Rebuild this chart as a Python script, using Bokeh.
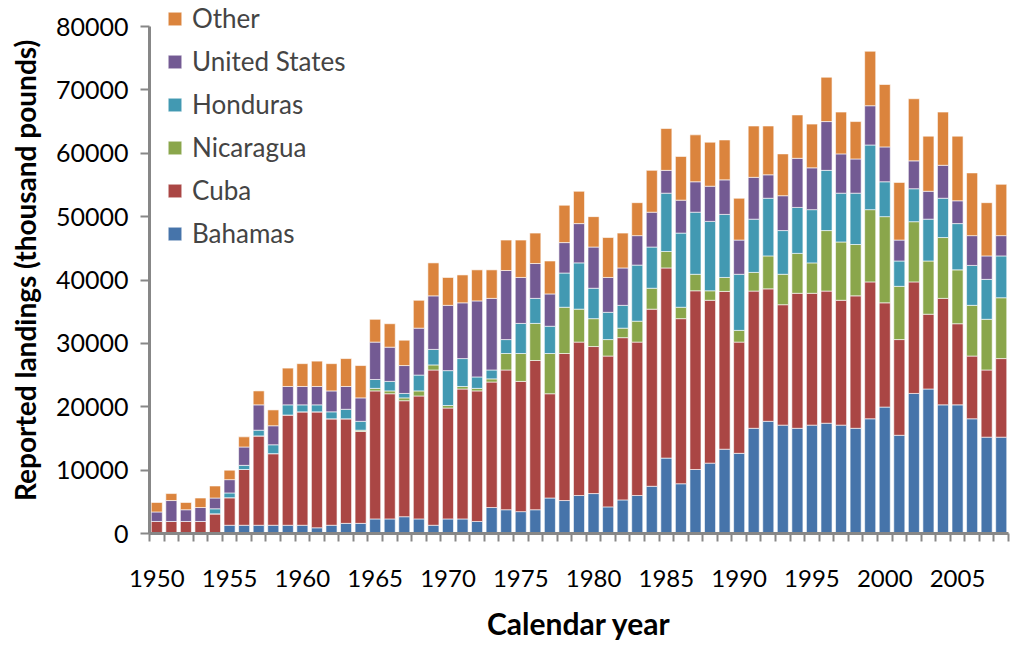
from bokeh.plotting import figure
from bokeh.layouts import column
from bokeh.models import Range1d, FixedTicker, Legend, LegendItem, ColumnDataSource, Label
from bokeh.embed import file_html
from bokeh.resources import INLINE

years = list(range(1950, 2009))

bahamas = [0, 0, 0, 0, 0, 1300, 1300, 1300, 1300, 1300,
           1300, 900, 1300, 1600, 1600, 2300, 2300, 2650, 2300, 1300,
           2300, 2300, 1900, 4100, 3750, 3450, 3750, 5600, 5200, 6000,
           6300, 4200, 5300, 6000, 7450, 11900, 7850, 10100, 11100, 13300,
           12650, 16600, 17700, 17100, 16600, 17100, 17400, 17100, 16600, 18100,
           19950, 15500, 22100, 22800, 20300, 20300, 18100, 15200, 15200]
cuba = [1900, 1900, 1900, 1900, 3100, 4350, 8800, 14100, 11300, 17400,
        17900, 18300, 16800, 16500, 14500, 20200, 19750, 18300, 19400, 24500,
        17500, 20500, 20600, 19800, 22050, 20550, 23550, 16450, 23200, 24200,
        23200, 23800, 25600, 24200, 27950, 30000, 26050, 28200, 25700, 24900,
        17550, 21650, 20900, 19000, 21300, 20800, 20850, 19700, 20900, 21600,
        16450, 15100, 17600, 11800, 16800, 12800, 9900, 10600, 12400]
nicaragua = [0, 0, 0, 0, 0, 0, 0, 0, 0, 0,
             0, 0, 0, 0, 200, 400, 450, 450, 800, 800,
             400, 400, 400, 500, 2600, 4400, 5850, 6350, 7300, 5200,
             4400, 2600, 1500, 3300, 3300, 2600, 1800, 2600, 1500, 2200,
             1850, 2950, 5200, 4800, 6300, 4800, 9550, 9200, 8100, 11400,
             13600, 8400, 9500, 8400, 9600, 8500, 8000, 8000, 9600]
honduras = [0, 0, 0, 0, 800, 750, 650, 900, 1400, 1600,
            1100, 1100, 1100, 1500, 1400, 1400, 1500, 700, 2500, 2450,
            5500, 4400, 1800, 1400, 2200, 4750, 3950, 4300, 5400, 7300,
            4800, 4300, 3600, 8850, 6500, 9200, 11700, 9800, 10950, 9950,
            8850, 8400, 9100, 6900, 7250, 8400, 9500, 7700, 8100, 10200,
            5500, 4000, 5200, 6600, 6200, 7300, 6300, 6300, 6600]
united_states = [1500, 3300, 1850, 2200, 1700, 2100, 2900, 4000, 3000, 2900,
                 2900, 2900, 3300, 3600, 3700, 5900, 5400, 4400, 7400, 8450,
                 10300, 8800, 12000, 11300, 10900, 7250, 5500, 5100, 4800, 6200,
                 6500, 5500, 5900, 4650, 5500, 3600, 5200, 4800, 5550, 5450,
                 5400, 6600, 3700, 5500, 7750, 6600, 7700, 6200, 5400, 6200,
                 5500, 3300, 4400, 4400, 5200, 3600, 4700, 3700, 3200]
other = [1500, 1100, 1150, 1500, 1900, 1500, 1600, 2200, 2500, 2900,
         3600, 4000, 4300, 4400, 5100, 3600, 3700, 4000, 4400, 5200,
         4400, 4400, 4900, 4500, 4800, 5900, 4800, 5200, 5900, 5100,
         4800, 6300, 5500, 5200, 6600, 6600, 6900, 7400, 6950, 6300,
         6600, 8100, 7700, 6600, 6850, 6900, 7000, 6600, 5900, 8600,
         9850, 9100, 9800, 8700, 8400, 10200, 9900, 8400, 8100]

series = ["Bahamas", "Cuba", "Nicaragua", "Honduras", "United States", "Other"]
colors = ["#4674AA", "#AA4644", "#8AA64B", "#4299B2", "#735A93", "#DB843D"]
y_ticks = [0, 10000, 20000, 30000, 40000, 50000, 60000, 70000, 80000]
y_axis_max = 80000
x_label_years = [1950, 1955, 1960, 1965, 1970, 1975, 1980, 1985, 1990, 1995, 2000, 2005]
x_title = "Calendar year"
y_title = "Reported landings  (thousand pounds)"

src = ColumnDataSource(data={
    "year": years,
    "Bahamas": bahamas,
    "Cuba": cuba,
    "Nicaragua": nicaragua,
    "Honduras": honduras,
    "United States": united_states,
    "Other": other,
})

# layout: frame reaches the canvas top so the legend (which sits above the
# 80000 tick in the original) is not clipped; the axis itself stops at 80000.
fig_w = 1010
main_h = 603
bottom_border = 70
title_h = 38
frame_h = main_h - bottom_border
headroom_px = 26
y_end = y_axis_max * frame_h / (frame_h - headroom_px)

x_rng = Range1d(years[0] - 0.5, years[-1] + 0.5)

p = figure(width=fig_w, height=main_h, output_backend="svg", toolbar_location=None,
           x_range=x_rng, y_range=Range1d(0, y_end),
           min_border_left=149, min_border_right=2, min_border_top=0,
           min_border_bottom=bottom_border)
p.outline_line_color = None
p.grid.visible = False

rends = p.vbar_stack(series, x="year", width=0.76, source=src,
                     fill_color=colors, line_color="white", line_alpha=0.6,
                     line_width=1)

items = [LegendItem(label=s, renderers=[r]) for s, r in zip(series, rends)]
items.reverse()
legend = Legend(items=items, location=(17, 284), glyph_width=17, glyph_height=17,
                label_text_font="Lato", label_text_font_size="26px",
                label_standoff=9, spacing=11, padding=0, margin=0,
                border_line_color=None, background_fill_alpha=0)
p.add_layout(legend, "center")

axis_grey = "#878787"

yax = p.yaxis[0]
yax.bounds = (0, y_axis_max)
yax.ticker = FixedTicker(ticks=y_ticks)
yax.major_label_text_font = "Lato"
yax.major_label_text_font_size = "25px"
yax.major_label_text_color = "black"
yax.major_label_standoff = 12
yax.major_tick_out = 9
yax.major_tick_in = 0
yax.minor_tick_line_color = None
yax.major_tick_line_color = axis_grey
yax.major_tick_line_width = 2
yax.axis_line_color = axis_grey
yax.axis_line_width = 3
yax.axis_label = y_title
yax.axis_label_text_font = "Lato"
yax.axis_label_text_font_style = "bold"
yax.axis_label_text_font_size = "28px"
yax.axis_label_text_color = "black"
yax.axis_label_standoff = 11

xax = p.xaxis[0]
xax.ticker = FixedTicker(ticks=x_label_years,
                         minor_ticks=[y - 0.5 for y in years] + [years[-1] + 0.5])
xax.major_tick_line_color = None
xax.major_tick_out = 0
xax.major_tick_in = 0
xax.minor_tick_out = 8
xax.minor_tick_in = 0
xax.minor_tick_line_color = axis_grey
xax.minor_tick_line_width = 2
xax.axis_line_color = axis_grey
xax.axis_line_width = 3
xax.major_label_standoff = 28
xax.major_label_text_font = "Lato"
xax.major_label_text_font_size = "24px"
xax.major_label_text_color = "black"

# strip below the chart holding the x-axis title (its frame aligns with p's)
t = figure(width=fig_w, height=title_h, output_backend="svg", toolbar_location=None,
           x_range=x_rng, y_range=Range1d(0, title_h),
           x_axis_location=None, y_axis_location=None,
           min_border_left=149, min_border_right=2, min_border_top=0, min_border_bottom=0)
t.outline_line_color = None
t.grid.visible = False
t.add_layout(Label(x=(x_rng.start + x_rng.end) / 2, y=title_h / 2, text=x_title,
                   text_align="center", text_baseline="middle", text_font="Lato",
                   text_font_style="bold", text_font_size="30px",
                   text_color="black"))

layout = column(p, t, spacing=0)
open("out.html", "w").write(file_html(layout, INLINE))
